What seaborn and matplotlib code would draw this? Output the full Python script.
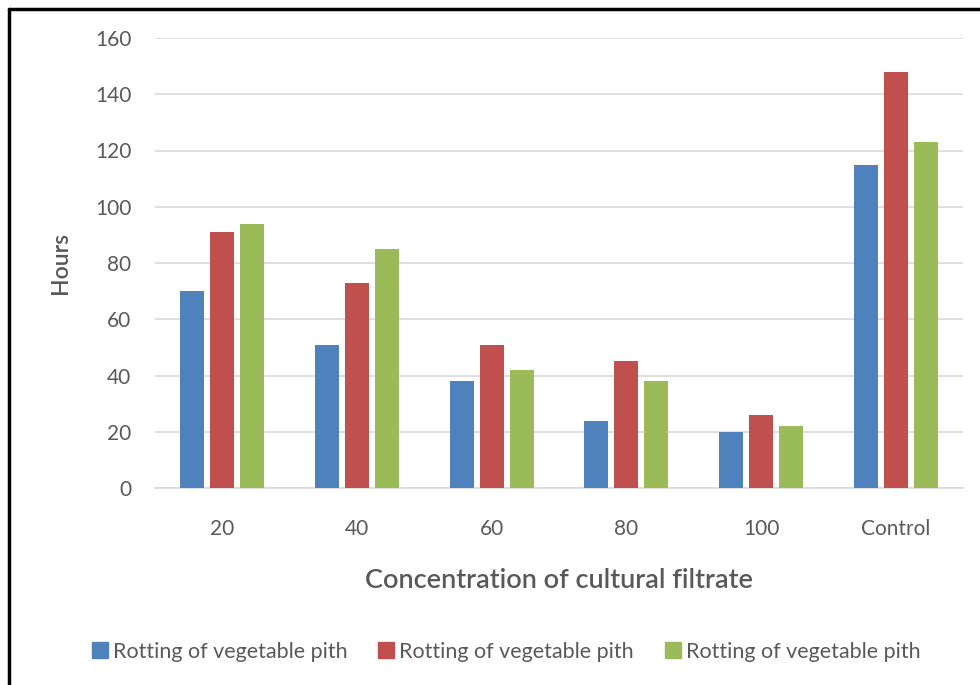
import matplotlib
matplotlib.use("Agg")
import matplotlib.pyplot as plt
import seaborn as sns
import pandas as pd
from matplotlib.lines import Line2D

# Concentration levels and rotting time (hours) for three replicate series
categories = ["20", "40", "60", "80", "100", "Control"]
series_names = ["Rotting of vegetable pith (1)", "Rotting of vegetable pith (2)", "Rotting of vegetable pith (3)"]
legend_labels = ["Rotting of vegetable pith"] * 3
series_1 = [70, 51, 38, 24, 20, 115]
series_2 = [91, 73, 51, 45, 26, 148]
series_3 = [94, 85, 42, 38, 22, 123]
y_ticks = [0, 20, 40, 60, 80, 100, 120, 140, 160]

colors = ["#4F81BD", "#C0504D", "#9BBB59"]
text_color = "#595959"

rows = []
for name, vals in zip(series_names, [series_1, series_2, series_3]):
    for c, v in zip(categories, vals):
        rows.append({"Concentration": c, "Series": name, "Hours": v})
df = pd.DataFrame(rows)

sns.set_theme(style="white")
plt.rcParams["font.family"] = ["Lato", "DejaVu Sans"]

fig = plt.figure(figsize=(9.8, 6.85), dpi=100)
ax = fig.add_axes([155 / 980, 1 - 488 / 685, (963 - 155) / 980, (488 - 38) / 685])

sns.barplot(data=df, x="Concentration", y="Hours", hue="Series",
            order=categories, hue_order=series_names, palette=colors,
            width=0.67, gap=0.2, saturation=1, legend=False, ax=ax,
            edgecolor="none", linewidth=0, zorder=3)

ax.set_ylim(0, 160)
ax.set_yticks(y_ticks)
ax.set_xlim(-0.5, len(categories) - 0.5)
ax.yaxis.grid(True, color="#D9D9D9", linewidth=1.2, zorder=0)
ax.set_axisbelow(True)
for s in ["top", "right", "left"]:
    ax.spines[s].set_visible(False)
ax.spines["bottom"].set_color("#D9D9D9")
ax.spines["bottom"].set_linewidth(1.2)
ax.tick_params(axis="both", length=0, labelsize=15, colors=text_color)
ax.tick_params(axis="y", pad=17)
ax.tick_params(axis="x", pad=22)

ax.set_xlabel("Concentration of cultural filtrate", fontsize=19.5, color=text_color,
              fontweight="semibold", labelpad=21)
ax.set_ylabel("Hours", fontsize=16.5, color=text_color, fontweight="semibold", labelpad=17)

handles = [Line2D([0], [0], marker="s", linestyle="none", markersize=11,
                  markerfacecolor=c, markeredgecolor=c) for c in colors]
fig.legend(handles, legend_labels, loc="center", bbox_to_anchor=(0.515, 1 - 652 / 685),
           ncol=3, frameon=False, fontsize=15.5, labelcolor=text_color,
           handletextpad=0.1, columnspacing=1.3, handlelength=1.0)

# Frame lines along the top and left edges of the figure
fig.add_artist(Line2D([9 / 980, 1.0], [1 - 9 / 685, 1 - 9 / 685], color="black",
                      linewidth=2.5, transform=fig.transFigure))
fig.add_artist(Line2D([9 / 980, 9 / 980], [0.0, 1 - 9 / 685], color="black",
                      linewidth=2.5, transform=fig.transFigure))

fig.savefig("out.png", dpi=100)
